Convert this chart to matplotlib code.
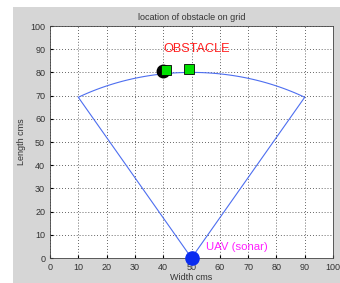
import numpy as np
import matplotlib
matplotlib.use("Agg")
from matplotlib import pyplot as plt
from matplotlib.patches import Rectangle

plt.rcParams['font.family'] = ['Liberation Sans', 'DejaVu Sans']

# sonar sector
uav = (50, 0)
radius = 80
angles_deg = [60, 120]          # sector edges
obstacle = (40, 80.5)
squares_x = [41, 49]
squares_y = [81, 81.5]
ticks = list(range(0, 101, 10))

fig = plt.figure(figsize=(3.4, 2.83), dpi=100)
fig.patch.set_facecolor('white')
fig.patches.append(Rectangle((13 / 340, 0), 1 - 13 / 340, (283 - 7) / 283,
                             transform=fig.transFigure, facecolor='#d6d6d6',
                             edgecolor='none', zorder=-10))

ax = fig.add_axes([50 / 340, 25 / 283, 283 / 340, 232 / 283])
ax.set_facecolor('white')

th = np.radians(np.linspace(angles_deg[0], angles_deg[1], 100))
arc_x = uav[0] + radius * np.cos(th)
arc_y = uav[1] + radius * np.sin(th)
ax.plot(np.concatenate([[uav[0]], arc_x, [uav[0]]]),
        np.concatenate([[uav[1]], arc_y, [uav[1]]]),
        color='#4d6ef0', lw=0.8)

ax.plot(*obstacle, 'o', color='black', ms=9, zorder=3)
ax.plot(squares_x, squares_y, 's', mfc='#00e000', mec='black', mew=0.6, ms=6.5, zorder=4)
ax.plot(*uav, 'o', color='#0a2cf0', ms=9.5, zorder=5, clip_on=False)

ax.text(40, 89, 'OBSTACLE', color='#ff2020', fontsize=9.2)
ax.text(55, 3.5, 'UAV (sonar)', color='#ff20ff', fontsize=8.2)

ax.set_xlim(0, 100)
ax.set_ylim(0, 100)
ax.set_xticks(ticks)
ax.set_yticks(ticks)
ax.grid(True, color='#333333', ls=(0, (1, 2.5)), lw=0.6)
ax.tick_params(labelsize=6.5, labelcolor='#333333', length=2, direction='in')
for s in ax.spines.values():
    s.set_color('#444444')
    s.set_linewidth(0.6)
ax.set_title('location of obstacle on grid', fontsize=6.5, color='#333333', pad=4)
ax.set_xlabel('Width cms', fontsize=6.5, color='#333333', labelpad=1)
ax.set_ylabel('Length cms', fontsize=6.5, color='#333333', labelpad=3)

plt.savefig('out.png', dpi=100)
